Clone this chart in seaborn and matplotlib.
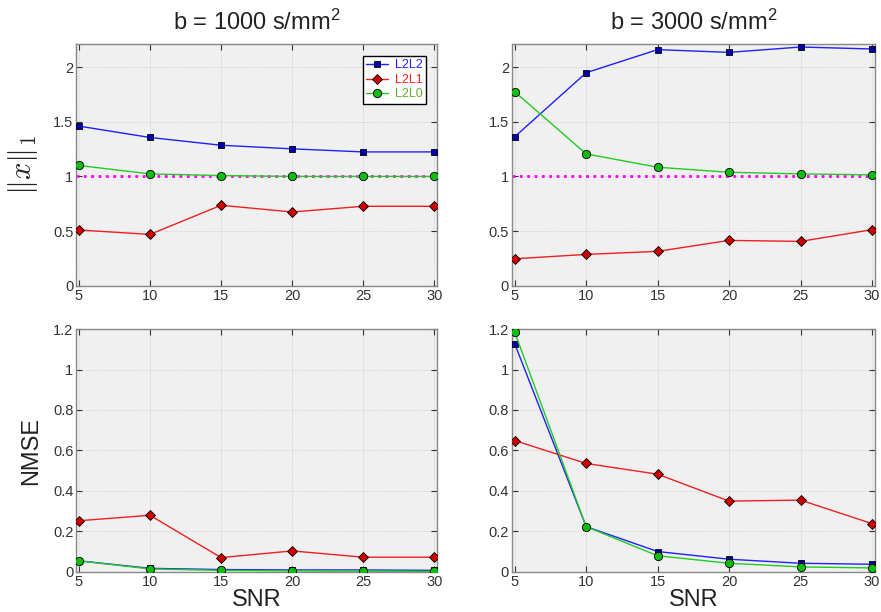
import numpy as np
import pandas as pd
import matplotlib
matplotlib.use("Agg")
import matplotlib.pyplot as plt
import seaborn as sns

snr = [5, 10, 15, 20, 25, 30]
methods = ["L2L2", "L2L1", "L2L0"]

# ||x||_1, b = 1000
norm_b1000 = {
    "L2L2": [1.46, 1.356, 1.285, 1.252, 1.224, 1.224],
    "L2L1": [0.51, 0.47, 0.736, 0.675, 0.727, 0.727],
    "L2L0": [1.10, 1.023, 1.008, 1.0, 1.0, 1.0],
}
# ||x||_1, b = 3000
norm_b3000 = {
    "L2L2": [1.362, 1.948, 2.159, 2.134, 2.183, 2.165],
    "L2L1": [0.247, 0.287, 0.315, 0.415, 0.406, 0.513],
    "L2L0": [1.774, 1.206, 1.084, 1.038, 1.023, 1.014],
}
# NMSE, b = 1000
nmse_b1000 = {
    "L2L2": [0.055, 0.018, 0.012, 0.010, 0.010, 0.008],
    "L2L1": [0.253, 0.280, 0.071, 0.104, 0.073, 0.073],
    "L2L0": [0.055, 0.015, 0.008, 0.005, 0.004, 0.003],
}
# NMSE, b = 3000
nmse_b3000 = {
    "L2L2": [1.127, 0.224, 0.101, 0.063, 0.043, 0.038],
    "L2L1": [0.649, 0.536, 0.483, 0.350, 0.355, 0.239],
    "L2L0": [1.185, 0.224, 0.080, 0.043, 0.025, 0.020],
}
true_norm = 1.0

titles = [r"b = 1000 s/mm$\mathregular{^2}$", r"b = 3000 s/mm$\mathregular{^2}$"]

line_colors = {"L2L2": "#1f1fff", "L2L1": "#ee2020", "L2L0": "#22cc22"}
face_colors = {"L2L2": "#0000b0", "L2L1": "#cc0000", "L2L0": "#11bb11"}
legend_text_colors = {"L2L2": "#2020ff", "L2L1": "#ff2020", "L2L0": "#6aaa30"}
markers = {"L2L2": "s", "L2L1": "D", "L2L0": "o"}
marker_sizes = {"L2L2": 5, "L2L1": 5.5, "L2L0": 6}

sns.set_style("ticks")
plt.rcParams["font.family"] = ["Liberation Sans", "DejaVu Sans"]
plt.rcParams["mathtext.fontset"] = "cm"

fig = plt.figure(figsize=(8.81, 6.12), dpi=100)
positions = [
    [0.0863, 0.533, 0.410, 0.395],
    [0.581, 0.533, 0.412, 0.395],
    [0.0863, 0.0654, 0.410, 0.397],
    [0.581, 0.0654, 0.412, 0.397],
]
panels = [norm_b1000, norm_b3000, nmse_b1000, nmse_b3000]
axes = [fig.add_axes(p) for p in positions]

for i, (ax, data) in enumerate(zip(axes, panels)):
    ax.set_facecolor("#f0f0f0")
    df = pd.DataFrame(data)
    df["SNR"] = snr
    long = df.melt(id_vars="SNR", var_name="method", value_name="val")
    if i < 2:
        ax.axhline(true_norm, color="#ff00ff", ls=":", lw=2, zorder=1)
    for m in methods:
        sub = long[long["method"] == m]
        sns.lineplot(data=sub, x="SNR", y="val", ax=ax, color=line_colors[m],
                     marker=markers[m], markersize=marker_sizes[m],
                     markerfacecolor=face_colors[m], markeredgecolor="black",
                     markeredgewidth=0.6, lw=1.0, label=m, zorder=3)
    ax.set_xlim(4.8, 30.2)
    ax.set_xticks(snr)
    if i < 2:
        ax.set_ylim(0, 2.21)
        ax.set_yticks([0, 0.5, 1, 1.5, 2])
        ax.set_yticklabels(["0", "0.5", "1", "1.5", "2"])
    else:
        ax.set_ylim(0, 1.2)
        ax.set_yticks([0, 0.2, 0.4, 0.6, 0.8, 1, 1.2])
        ax.set_yticklabels(["0", "0.2", "0.4", "0.6", "0.8", "1", "1.2"])
    ax.grid(True, color="#d6d6d6", lw=0.6, ls=(0, (2, 1)))
    ax.tick_params(direction="in", length=4, top=True, right=True,
                   labelsize=10.5, colors="#333333", pad=2)
    for s in ax.spines.values():
        s.set_color("#888888")
        s.set_linewidth(1.0)
    ax.set_xlabel("")
    ax.set_ylabel("")
    if ax.get_legend() is not None and i != 0:
        ax.get_legend().remove()

# legend on first panel
leg = axes[0].legend(loc="upper right", bbox_to_anchor=(0.985, 0.975), fontsize=9,
                     frameon=True, fancybox=False, handlelength=1.8,
                     borderpad=0.25, labelspacing=0.2, handletextpad=0.5)
leg.get_frame().set_edgecolor("black")
leg.get_frame().set_linewidth(1.0)
leg.get_frame().set_facecolor("white")
leg.get_frame().set_alpha(1.0)
for txt, m in zip(leg.get_texts(), methods):
    txt.set_color(legend_text_colors[m])

for ax, t in zip(axes[:2], titles):
    ax.set_title(t, fontsize=17, color="#222222", pad=10)

axes[0].set_ylabel(r"$\|x\|_1$", fontsize=22, color="#222222", labelpad=9)
axes[2].set_ylabel("NMSE", fontsize=17, color="#222222", labelpad=8)
axes[2].set_xlabel("SNR", fontsize=17, color="#222222", labelpad=0)
axes[3].set_xlabel("SNR", fontsize=17, color="#222222", labelpad=0)

fig.savefig("out.png", dpi=100)
